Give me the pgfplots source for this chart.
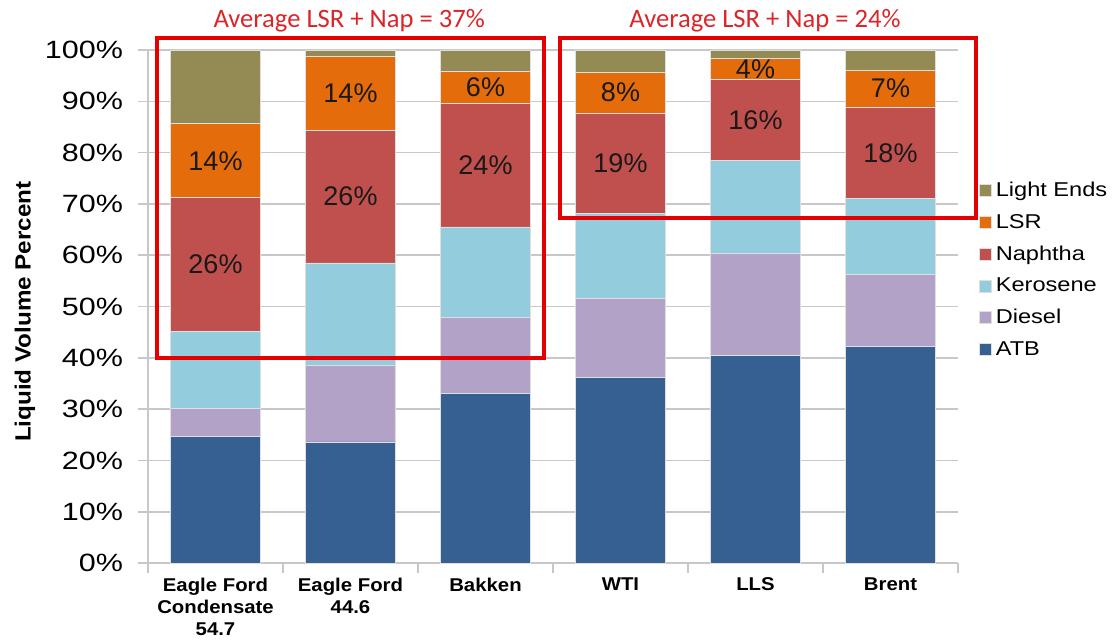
\documentclass[border=0pt]{standalone}
\usepackage{fontspec}
\setmainfont{Liberation Sans}
\newfontfamily\tickfont{Liberation Sans}[FakeStretch=1.22]
\newfontfamily\legfont{Liberation Sans}[FakeStretch=1.18]
\newfontfamily\labfont{Liberation Sans}[FakeStretch=1.1]
\newfontfamily\titlefont{Carlito}
\usepackage{pgfplots}
\usepackage{pgfplotstable}
\pgfplotsset{compat=1.18}
\definecolor{cATB}{RGB}{55,96,146}
\definecolor{cDie}{RGB}{179,162,199}
\definecolor{cKer}{RGB}{147,205,221}
\definecolor{cNap}{RGB}{192,80,77}
\definecolor{cLSR}{RGB}{228,108,10}
\definecolor{cLE}{RGB}{148,139,84}
\definecolor{boxred}{RGB}{228,0,0}
\definecolor{titred}{RGB}{218,37,42}
\definecolor{gridc}{RGB}{200,200,200}
\pgfplotstableread{
x ATB Diesel Kerosene Naphtha LSR LE
0 24.6 5.6 15.0 26.0 14.4 14.4
1 23.6 15.0 19.9 25.9 14.4 1.2
2 33.1 14.7 17.7 24.0 6.4 4.1
3 36.1 15.4 16.7 19.5 8.0 4.3
4 40.4 20.0 18.0 15.8 4.2 1.6
5 42.3 14.0 14.7 17.9 7.2 3.9
}\mydata
\begin{document}
\begin{tikzpicture}
\useasboundingbox (-74pt,-38pt) rectangle (482pt,281.5pt);
\begin{axis}[
  at={(0,0)}, anchor=south west,
  scale only axis, width=405pt, height=256.5pt,
  ybar stacked, bar width=45pt,
  xmin=-0.5, xmax=5.5, ymin=0, ymax=100,
  clip=false,
  axis lines*=left,
  axis line style={draw=gridc, line width=0.8pt},
  xtick={0,...,5},
  xticklabels={{Eagle Ford\\Condensate\\54.7},{Eagle Ford\\44.6},Bakken,WTI,LLS,Brent},
  xticklabel style={align=center, font=\labfont\bfseries\fontsize{9.25}{11}\selectfont, yshift=1pt},
  x tick style={draw=none},
  extra x ticks={-0.5,0.5,1.5,2.5,3.5,4.5,5.5},
  extra x tick labels={},
  extra x tick style={x tick style={draw=gridc, line width=0.8pt}, grid=none},
  ytick={0,10,...,100},
  yticklabels={0\%,10\%,20\%,30\%,40\%,50\%,60\%,70\%,80\%,90\%,100\%},
  yticklabel style={font=\tickfont\fontsize{12.5}{14}\selectfont, xshift=-4pt},
  y tick style={draw=gridc, line width=0.8pt},
  tick align=outside, major tick length=5pt,
  ymajorgrids, grid style={draw=gridc, line width=0.8pt},
  ylabel={Liquid Volume Percent},
  ylabel style={font=\labfont\bfseries\fontsize{11}{13}\selectfont, at={(axis description cs:-0.152,0.49)}, anchor=center},
  reverse legend,
  legend cell align=left,
  legend style={at={(1.018,0.759)}, anchor=north west, draw=none, fill=none,
    font=\legfont\fontsize{10}{12}\selectfont, row sep=3.3pt},
  legend image code/.code={\fill[#1] (0pt,-3pt) rectangle (6pt,3pt);},
]
\addplot[fill=cATB, draw=gray!25] table[x=x,y=ATB]{\mydata}; \addlegendentry{ATB}
\addplot[fill=cDie, draw=gray!25] table[x=x,y=Diesel]{\mydata}; \addlegendentry{Diesel}
\addplot[fill=cKer, draw=gray!25] table[x=x,y=Kerosene]{\mydata}; \addlegendentry{Kerosene}
\addplot[fill=cNap, draw=gray!25] table[x=x,y=Naphtha]{\mydata}; \addlegendentry{Naphtha}
\addplot[fill=cLSR, draw=gray!25] table[x=x,y=LSR]{\mydata}; \addlegendentry{LSR}
\addplot[fill=cLE, draw=gray!25] table[x=x,y=LE]{\mydata}; \addlegendentry{Light Ends}
\coordinate (L1) at (axis cs:0,78.4);
\coordinate (L2) at (axis cs:0,58.2);
\coordinate (L3) at (axis cs:1,91.6);
\coordinate (L4) at (axis cs:1,71.45);
\coordinate (L5) at (axis cs:2,92.7);
\coordinate (L6) at (axis cs:2,77.5);
\coordinate (L7) at (axis cs:3,91.7);
\coordinate (L8) at (axis cs:3,77.95);
\coordinate (L9) at (axis cs:4,96.3);
\coordinate (L10) at (axis cs:4,86.3);
\coordinate (L11) at (axis cs:5,92.5);
\coordinate (L12) at (axis cs:5,79.95);
\coordinate (B1a) at (axis cs:-0.433,102.3);
\coordinate (B1b) at (axis cs:2.433,40);
\coordinate (B2a) at (axis cs:2.552,102.3);
\coordinate (B2b) at (axis cs:5.633,67.3);
\coordinate (T1) at (axis cs:0.99,105.8);
\coordinate (T2) at (axis cs:4.07,105.8);
\end{axis}
\begin{scope}[every node/.style={font=\fontsize{13.5}{15}\selectfont, text=black!90}]
\node at (L1) {14\%};
\node at (L2) {26\%};
\node at (L3) {14\%};
\node at (L4) {26\%};
\node at (L5) {6\%};
\node at (L6) {24\%};
\node at (L7) {8\%};
\node at (L8) {19\%};
\node at (L9) {4\%};
\node at (L10) {16\%};
\node at (L11) {7\%};
\node at (L12) {18\%};
\end{scope}
\draw[boxred, line width=2pt] (B1a) rectangle (B1b);
\draw[boxred, line width=2pt] (B2a) rectangle (B2b);
\node[text=titred, font=\titlefont\fontsize{13.3}{15}\selectfont] at (T1) {Average LSR + Nap = 37\%};
\node[text=titred, font=\titlefont\fontsize{13.3}{15}\selectfont] at (T2) {Average LSR + Nap = 24\%};
\end{tikzpicture}
\end{document}
